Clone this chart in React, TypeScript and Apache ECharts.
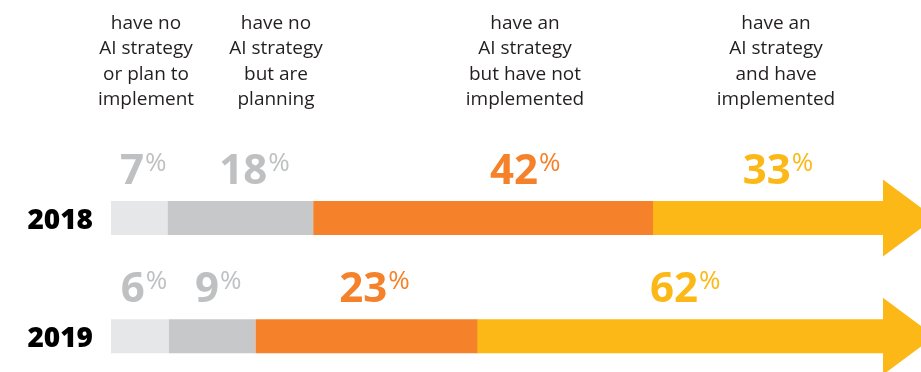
import React, { useEffect, useRef } from "react";
import * as echarts from "echarts";

// ---------------- data ----------------
const years = ["2018", "2019"];
const headers = [
  "have no\nAI strategy\nor plan to\nimplement",
  "have no\nAI strategy\nbut are\nplanning",
  "have an\nAI strategy\nbut have not\nimplemented",
  "have an\nAI strategy\nand have\nimplemented",
];
const noStrategyNoPlan = [7, 6];
const noStrategyPlanning = [18, 9];
const strategyNotImplemented = [42, 23];
const strategyImplemented = [33, 62];

// ---------------- layout / style ----------------
const GRID_LEFT = 111;
const SHAFT_END = 883;
const HEAD_LEN = 52;
const HEAD_HALF = 38.5;
const BAR_H = 34;
const PX_PER_PCT = [8.09, 9.64];
const GRID_TOPS = [179.5, 300.5];
const GRID_H = 77;
const HEADER_X = [146, 276, 525, 776];
const HEADER_Y = 9;
const LABEL_NUDGE = [
  [4, 14, 42, 10],
  [4, 6, 8, 5],
];
const SEG_COLORS = ["#e6e7e8", "#c7c8ca", "#f5822b", "#fcb817"];
const LABEL_COLORS = ["#bfc0c2", "#bfc0c2", "#f5822b", "#fcb817"];
const LABEL_DIST = 13;
const FONT = "'Open Sans', 'DejaVu Sans', sans-serif";

const richFor = (color: string) => ({
  n: {
    fontFamily: FONT,
    fontWeight: "bold",
    fontSize: 42,
    lineHeight: 42,
    color,
    fill: color,
    verticalAlign: "bottom",
  },
  p: {
    fontFamily: FONT,
    fontSize: 26,
    color,
    fill: color,
    padding: [0, 0, 14, 1],
    verticalAlign: "bottom",
  },
});

export default function App() {
  const ref = useRef<HTMLDivElement>(null);

  useEffect(() => {
    if (!ref.current) return;
    const chart = echarts.init(ref.current, undefined, { renderer: "svg" });
    const segs = [noStrategyNoPlan, noStrategyPlanning, strategyNotImplemented];

    const grids: any[] = [];
    const xAxes: any[] = [];
    const yAxes: any[] = [];
    const series: any[] = [];

    years.forEach((yr, r) => {
      grids.push({
        left: GRID_LEFT,
        top: GRID_TOPS[r],
        width: SHAFT_END - GRID_LEFT,
        height: GRID_H,
        containLabel: false,
      });
      xAxes.push({
        type: "value",
        gridIndex: r,
        min: 0,
        max: (SHAFT_END - GRID_LEFT) / PX_PER_PCT[r],
        show: false,
      });
      yAxes.push({
        type: "category",
        gridIndex: r,
        data: [yr],
        axisLine: { show: false },
        axisTick: { show: false },
        splitLine: { show: false },
        axisLabel: {
          fontFamily: FONT,
          fontWeight: 800,
          fontSize: 28,
          color: "#000",
          margin: 18,
        },
      });
      segs.forEach((arr, k) => {
        series.push({
          type: "bar",
          xAxisIndex: r,
          yAxisIndex: r,
          stack: "row" + r,
          barWidth: BAR_H,
          silent: true,
          data: [arr[r]],
          itemStyle: { color: SEG_COLORS[k] },
          label: {
            show: true,
            position: "top",
            distance: LABEL_DIST,
            offset: [LABEL_NUDGE[r][k], 0],
            formatter: (p: any) => `{n|${p.value}}{p|%}`,
            rich: richFor(LABEL_COLORS[k]),
          },
        });
      });
      const start = segs.reduce((s, arr) => s + arr[r], 0);
      const nudge = LABEL_NUDGE[r][3];
      series.push({
        type: "custom",
        xAxisIndex: r,
        yAxisIndex: r,
        silent: true,
        clip: false,
        data: [[start, 0, strategyImplemented[r]]],
        renderItem: (params: any, api: any) => {
          const cs = params.coordSys;
          const pt = api.coord([api.value(0), api.value(1)]);
          const x0 = pt[0] - 0.5;
          const yc = pt[1];
          const x1 = cs.x + cs.width;
          const fill = SEG_COLORS[3];
          return {
            type: "group",
            children: [
              {
                type: "rect",
                shape: { x: x0, y: yc - BAR_H / 2, width: x1 - x0 + 1, height: BAR_H },
                style: { fill },
              },
              {
                type: "polygon",
                shape: {
                  points: [
                    [x1, yc - HEAD_HALF],
                    [x1 + HEAD_LEN, yc],
                    [x1, yc + HEAD_HALF],
                  ],
                },
                style: { fill },
              },
              {
                type: "text",
                x: (pt[0] + x1) / 2 + nudge,
                y: yc - BAR_H / 2 - LABEL_DIST,
                style: {
                  text: `{n|${api.value(2)}}{p|%}`,
                  rich: richFor(LABEL_COLORS[3]),
                  fill: LABEL_COLORS[3],
                  align: "center",
                  verticalAlign: "bottom",
                },
              },
            ],
          };
        },
      });
    });

    chart.setOption({
      animation: false,
      grid: grids,
      xAxis: xAxes,
      yAxis: yAxes,
      series,
      graphic: headers.map((h, i) => ({
        type: "text",
        x: HEADER_X[i],
        y: HEADER_Y,
        silent: true,
        style: {
          text: h,
          fill: "#231f20",
          fontFamily: FONT,
          fontSize: 19,
          lineHeight: 25.5,
          align: "center",
          verticalAlign: "top",
          textAlign: "center",
          textVerticalAlign: "top",
        },
      })),
    });

    return () => chart.dispose();
  }, []);

  return (
    <div
      ref={ref}
      style={{ position: "fixed", left: 0, top: 0, width: 921, height: 372 }}
    />
  );
}
